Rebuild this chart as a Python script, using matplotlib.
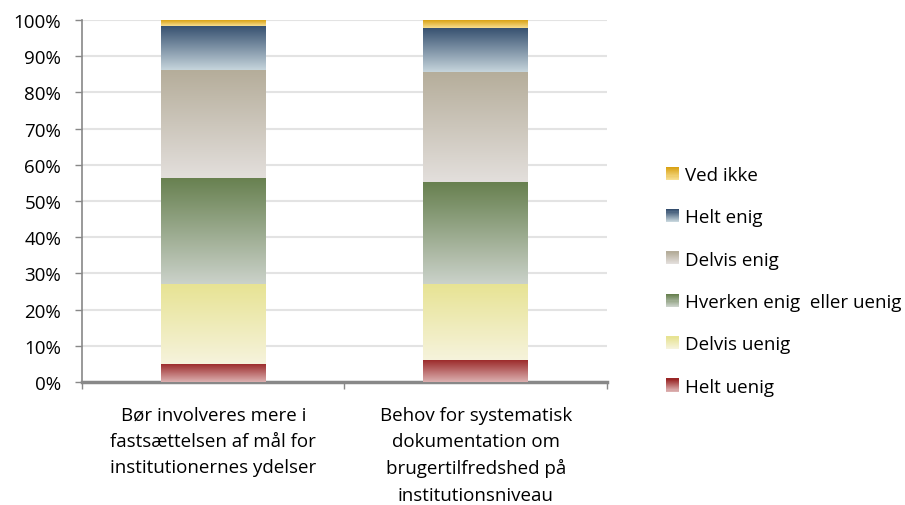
import numpy as np
import matplotlib
matplotlib.use("Agg")
import matplotlib.pyplot as plt
from matplotlib.colors import LinearSegmentedColormap
from matplotlib.patches import Rectangle
from matplotlib.legend_handler import HandlerBase
from matplotlib.ticker import PercentFormatter, MultipleLocator

plt.rcParams['font.family'] = ['Open Sans', 'DejaVu Sans']

categories = [
    "Bør involveres mere i\nfastsættelsen af mål for\ninstitutionernes ydelser",
    "Behov for systematisk\ndokumentation om\nbrugertilfredshed på\ninstitutionsniveau",
]
series = ["Helt uenig", "Delvis uenig", "Hverken enig  eller uenig",
          "Delvis enig", "Helt enig", "Ved ikke"]
helt_uenig = [5.0, 6.1]
delvis_uenig = [22.1, 21.0]
hverken = [29.3, 28.1]
delvis_enig = [29.8, 30.4]
helt_enig = [12.2, 12.2]
ved_ikke = [1.6, 2.2]
values = [helt_uenig, delvis_uenig, hverken, delvis_enig, helt_enig, ved_ikke]

# (top colour, bottom colour) for each series' vertical gradient
gradients = [
    ("#992626", "#dcb0b0"),
    ("#e7e393", "#f6f3dc"),
    ("#67804f", "#cbd2ca"),
    ("#b5ad9a", "#e3dfdc"),
    ("#344e6e", "#c6d5dc"),
    ("#d9a214", "#f7de90"),
]


def make_cmap(top, bottom):
    return LinearSegmentedColormap.from_list("g", [bottom, top])


class GradientHandler(HandlerBase):
    def __init__(self, top, bottom, n=12):
        super().__init__()
        self.cmap = make_cmap(top, bottom)
        self.n = n

    def create_artists(self, legend, orig_handle, xdescent, ydescent,
                       width, height, fontsize, trans):
        size = min(width, height)
        x0 = -xdescent + width - size
        y0 = -ydescent + (height - size) / 2
        arts = []
        for i in range(self.n):
            r = Rectangle((x0, y0 + size * i / self.n), size, size / self.n + 0.3,
                          facecolor=self.cmap(i / (self.n - 1)), edgecolor='none',
                          transform=trans)
            arts.append(r)
        return arts


fig = plt.figure(figsize=(9.05, 5.06), dpi=100)
ax = fig.add_axes([0.0906, 0.2431, 0.5801, 0.7154])

x = np.arange(len(categories))
width = 0.4
bottoms = np.zeros(len(categories))
grad = np.linspace(0, 1, 256).reshape(-1, 1)
handles = []
for vals, name, (top, bottom) in zip(values, series, gradients):
    cmap = make_cmap(top, bottom)
    bars = ax.bar(x, vals, width, bottom=bottoms, color='none', edgecolor='none',
                  label=name, zorder=3)
    for rect in bars:
        x0, y0 = rect.get_x(), rect.get_y()
        im = ax.imshow(grad, cmap=cmap, aspect='auto', origin='lower',
                       extent=[x0, x0 + rect.get_width(), y0, y0 + rect.get_height()],
                       zorder=3, interpolation='bilinear')
        im.set_clip_path(rect)
    handles.append(bars)
    bottoms += np.array(vals)

ax.set_xlim(-0.5, len(categories) - 0.5)
ax.set_ylim(0, 100)
ax.yaxis.set_major_locator(MultipleLocator(10))
ax.yaxis.set_major_formatter(PercentFormatter(decimals=0))
ax.set_xticks(x)
ax.set_xticklabels(categories, fontsize=13.5, linespacing=1.58)
ax.tick_params(axis='x', length=0, pad=17)
ax.set_xticks([-0.5, 0.5, 1.5], minor=True)
ax.tick_params(axis='x', which='minor', length=5, color='#888888', width=1)
ax.tick_params(axis='y', labelsize=13.5, length=5, color='#888888', width=1, pad=10)
ax.grid(axis='y', color='#e3e3e3', linewidth=1.5, zorder=0)
ax.set_axisbelow(True)
for side in ['top', 'right']:
    ax.spines[side].set_visible(False)
ax.spines['left'].set_color('#888888')
ax.spines['left'].set_linewidth(1.2)
ax.spines['bottom'].set_color('#888888')
ax.spines['bottom'].set_linewidth(2.5)

handler_map = {h: GradientHandler(top, bottom) for h, (top, bottom) in zip(handles, gradients)}
leg = fig.legend(handles[::-1], series[::-1], handler_map=handler_map,
                 loc='center left', bbox_to_anchor=(0.717, 0.443), frameon=False,
                 fontsize=13.5, labelspacing=1.3, handlelength=0.68, handleheight=0.68,
                 handletextpad=0.35)

fig.savefig("out.png", dpi=100)
